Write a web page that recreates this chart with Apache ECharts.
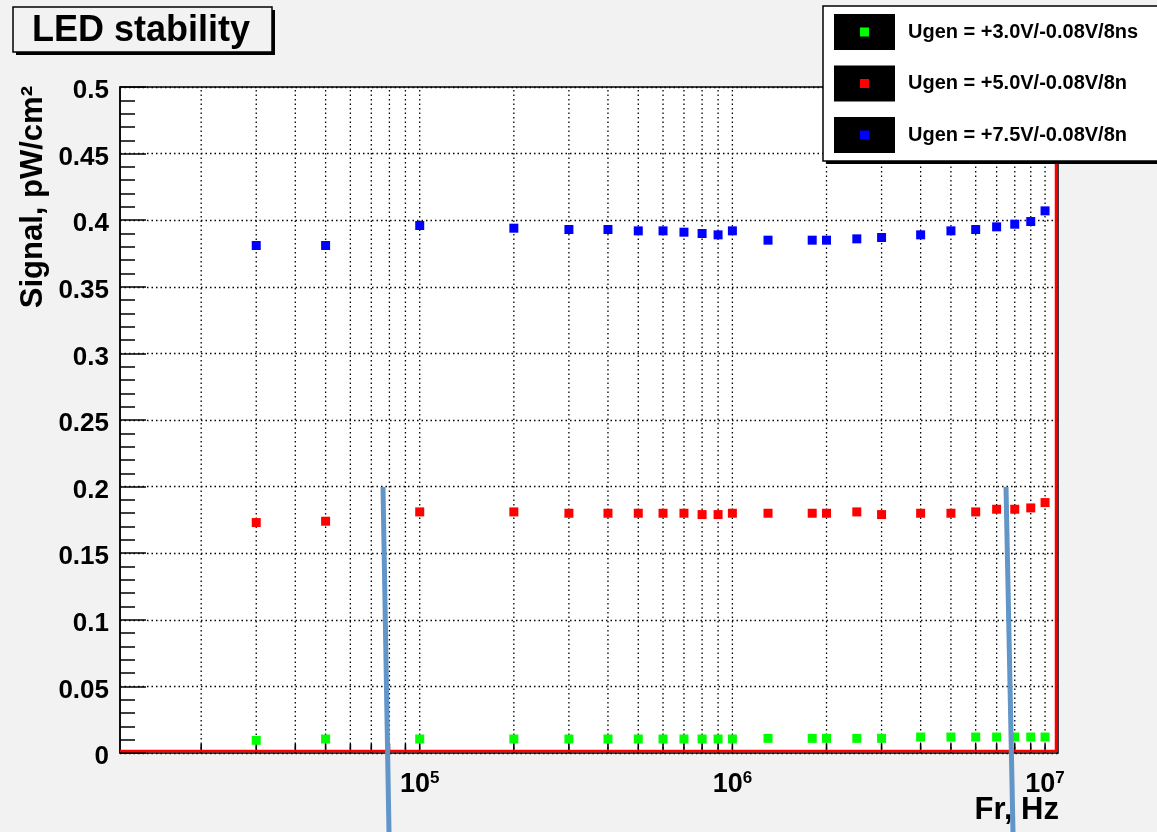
<!DOCTYPE html>
<html>
<head>
<meta charset="utf-8">
<title>LED stability</title>
<script src="https://cdn.jsdelivr.net/npm/echarts@6/dist/echarts.min.js"></script>
<style>
  html, body { margin: 0; padding: 0; background: #f2f2f2; }
  #chart { width: 1157px; height: 832px; }
</style>
</head>
<body>
<div id="chart"></div>
<script>
// Generator frequency, Hz
const freqHz = [3e4, 5e4, 1e5, 2e5, 3e5, 4e5, 5e5, 6e5, 7e5, 8e5, 9e5, 1e6,
                1.3e6, 1.8e6, 2e6, 2.5e6, 3e6, 4e6, 5e6, 6e6, 7e6, 8e6, 9e6, 1e7];

// Measured LED signal, pW/cm^2, for three generator amplitudes
const signal3V = [0.0095, 0.0105, 0.0105, 0.0105, 0.0105, 0.0105, 0.0105, 0.0105, 0.0105, 0.0105, 0.0105, 0.0105,
                  0.011, 0.011, 0.011, 0.011, 0.011, 0.012, 0.012, 0.012, 0.012, 0.012, 0.012, 0.012];
const signal5V = [0.173, 0.174, 0.181, 0.181, 0.180, 0.180, 0.180, 0.180, 0.180, 0.179, 0.179, 0.180,
                  0.180, 0.180, 0.180, 0.181, 0.179, 0.180, 0.180, 0.181, 0.183, 0.183, 0.184, 0.188];
const signal75V = [0.381, 0.381, 0.396, 0.394, 0.393, 0.393, 0.392, 0.392, 0.391, 0.390, 0.389, 0.392,
                   0.385, 0.385, 0.385, 0.386, 0.387, 0.389, 0.392, 0.393, 0.395, 0.397, 0.399, 0.407];

const seriesNames = ['Ugen = +3.0V/-0.08V/8ns', 'Ugen = +5.0V/-0.08V/8n', 'Ugen = +7.5V/-0.08V/8n'];
const seriesValues = [signal3V, signal5V, signal75V];
const seriesColors = ['#00ff00', '#ff0000', '#0000ff'];

// Log-axis subdivisions (2..9 x 10^k) that carry a dotted grid line and a tick
const xGridValues = [2e4, 3e4, 4e4, 5e4, 6e4, 7e4, 8e4, 9e4,
                     1e5, 2e5, 3e5, 4e5, 5e5, 6e5, 7e5, 8e5, 9e5,
                     1e6, 2e6, 3e6, 4e6, 5e6, 6e6, 7e6, 8e6, 9e6, 1e7];

const titleText = 'LED stability';
const xAxisTitle = 'Fr, Hz';
const yAxisTitle = 'Signal, pW/cm\u00B2';

const FONT = '"Liberation Sans", Arial, Helvetica, sans-serif';

const G = { left: 120, top: 87, width: 938, height: 666 };

const chart = echarts.init(document.getElementById('chart'), null, { renderer: 'canvas' });

const scatterSeries = seriesNames.map((name, k) => ({
  name,
  type: 'scatter',
  symbol: 'rect',
  symbolSize: 9,
  z: 5,
  itemStyle: { color: seriesColors[k], opacity: 1 },
  data: freqHz.map((f, i) => [f, seriesValues[k][i]])
}));

// dotted vertical grid lines plus short ticks along the frequency axis
const xGridSeries = {
  type: 'custom',
  silent: true,
  z: 2,
  data: xGridValues.map(v => [v, 0]),
  encode: { x: 0, y: 1 },
  renderItem(params, api) {
    const v = api.value(0);
    const top = api.coord([v, 0.5]);
    const bot = api.coord([v, 0]);
    return {
      type: 'group',
      children: [
        { type: 'line', shape: { x1: bot[0], y1: bot[1], x2: top[0], y2: top[1] },
          style: { stroke: '#000', lineWidth: 1.3, lineDash: [1.5, 3] } },
        { type: 'line', shape: { x1: bot[0], y1: bot[1], x2: bot[0], y2: bot[1] - 9 },
          style: { stroke: '#000', lineWidth: 1.6 } }
      ]
    };
  }
};

// legend panel built from the series names and colours
const legendRows = seriesNames.map((name, k) => {
  const cy = 32 + k * 51.5;
  return [
    { type: 'rect', shape: { x: 834, y: cy - 18, width: 61, height: 36 }, style: { fill: '#000' }, z: 101 },
    { type: 'rect', shape: { x: 860, y: cy - 4.5, width: 9, height: 9 }, style: { fill: seriesColors[k] }, z: 102 },
    { type: 'text', x: 908, y: cy, z: 102,
      style: { text: name, font: 'bold 20px ' + FONT, fill: '#000', textAlign: 'left', textVerticalAlign: 'middle' } }
  ];
}).flat();

const graphics = [
  // title box
  { type: 'rect', shape: { x: 16, y: 10, width: 259, height: 45 }, style: { fill: '#000' }, z: 100 },
  { type: 'rect', shape: { x: 13, y: 7, width: 259, height: 45 }, style: { fill: '#f2f2f2', stroke: '#000', lineWidth: 1.5 }, z: 100 },
  { type: 'text', x: 141, y: 31, z: 101,
    style: { text: titleText, font: 'bold 36px ' + FONT, fill: '#000', textAlign: 'center', textVerticalAlign: 'middle' } },
  // legend box
  { type: 'rect', shape: { x: 826, y: 9, width: 340, height: 155 }, style: { fill: '#000' }, z: 100 },
  { type: 'rect', shape: { x: 823, y: 6, width: 340, height: 155 }, style: { fill: '#fff', stroke: '#000', lineWidth: 1.5 }, z: 100 },
  ...legendRows,
  // red frame edges on bottom and right
  { type: 'line', shape: { x1: G.left, y1: G.top + G.height - 2, x2: G.left + G.width - 1.5, y2: G.top + G.height - 2 },
    style: { stroke: '#ff0000', lineWidth: 2.5 }, z: 50 },
  { type: 'line', shape: { x1: G.left + G.width - 2, y1: G.top, x2: G.left + G.width - 2, y2: G.top + G.height - 1 },
    style: { stroke: '#ff0000', lineWidth: 2.5 }, z: 50 },
  // axis titles
  { type: 'text', x: 1059, y: 826, z: 60,
    style: { text: xAxisTitle, font: 'bold 31px ' + FONT, fill: '#000', textAlign: 'right', textVerticalAlign: 'bottom' } },
  { type: 'text', x: 49, y: 86, rotation: Math.PI / 2, z: 60,
    style: { text: yAxisTitle, font: 'bold 31px ' + FONT, fill: '#000', textAlign: 'right', textVerticalAlign: 'bottom' } },
  // two blue marker strokes across the lower part
  { type: 'line', shape: { x1: 383, y1: 487, x2: 389, y2: 832 }, style: { stroke: '#6396c8', lineWidth: 5 }, z: 120 },
  { type: 'line', shape: { x1: 1006, y1: 487, x2: 1013, y2: 832 }, style: { stroke: '#6396c8', lineWidth: 5 }, z: 120 }
];

const option = {
  backgroundColor: '#f2f2f2',
  animation: false,
  textStyle: { fontFamily: FONT },
  grid: {
    left: G.left, top: G.top, width: G.width, height: G.height,
    show: true, backgroundColor: '#fff', borderColor: '#000', borderWidth: 1.5
  },
  xAxis: {
    type: 'log',
    logBase: 10,
    min: 1.1e4,
    max: 1.1e7,
    axisLine: { show: false },
    axisTick: { show: false },
    splitLine: { show: false },
    minorTick: { show: false },
    axisLabel: {
      showMinLabel: false,
      showMaxLabel: false,
      margin: 17,
      formatter: v => {
        const e = Math.round(Math.log10(v));
        if (Math.abs(Math.log10(v) - e) > 1e-6) return '';
        return '{b|10}{s|' + e + '}';
      },
      rich: {
        b: { fontSize: 27, fontWeight: 'bold', color: '#000', fontFamily: FONT, lineHeight: 30 },
        s: { fontSize: 17, fontWeight: 'bold', color: '#000', fontFamily: FONT, verticalAlign: 'top', lineHeight: 30, padding: [0, 0, 14, 0] }
      }
    }
  },
  yAxis: {
    type: 'value',
    min: 0,
    max: 0.5,
    interval: 0.05,
    axisLine: { show: true, lineStyle: { color: '#000', width: 1.5 } },
    axisTick: { show: true, inside: true, length: 26, lineStyle: { color: '#000', width: 1.5 } },
    minorTick: { show: true, splitNumber: 5, length: 15, lineStyle: { color: '#000', width: 1.5 } },
    splitLine: { show: true, lineStyle: { color: '#000', width: 1.3, type: [1.5, 3] } },
    axisLabel: {
      margin: 11,
      color: '#000',
      fontSize: 26,
      fontWeight: 'bold',
      fontFamily: FONT,
      verticalAlign: 'top',
      lineHeight: 8
    }
  },
  series: [xGridSeries, ...scatterSeries],
  graphic: graphics
};

chart.setOption(option);
</script>
</body>
</html>
